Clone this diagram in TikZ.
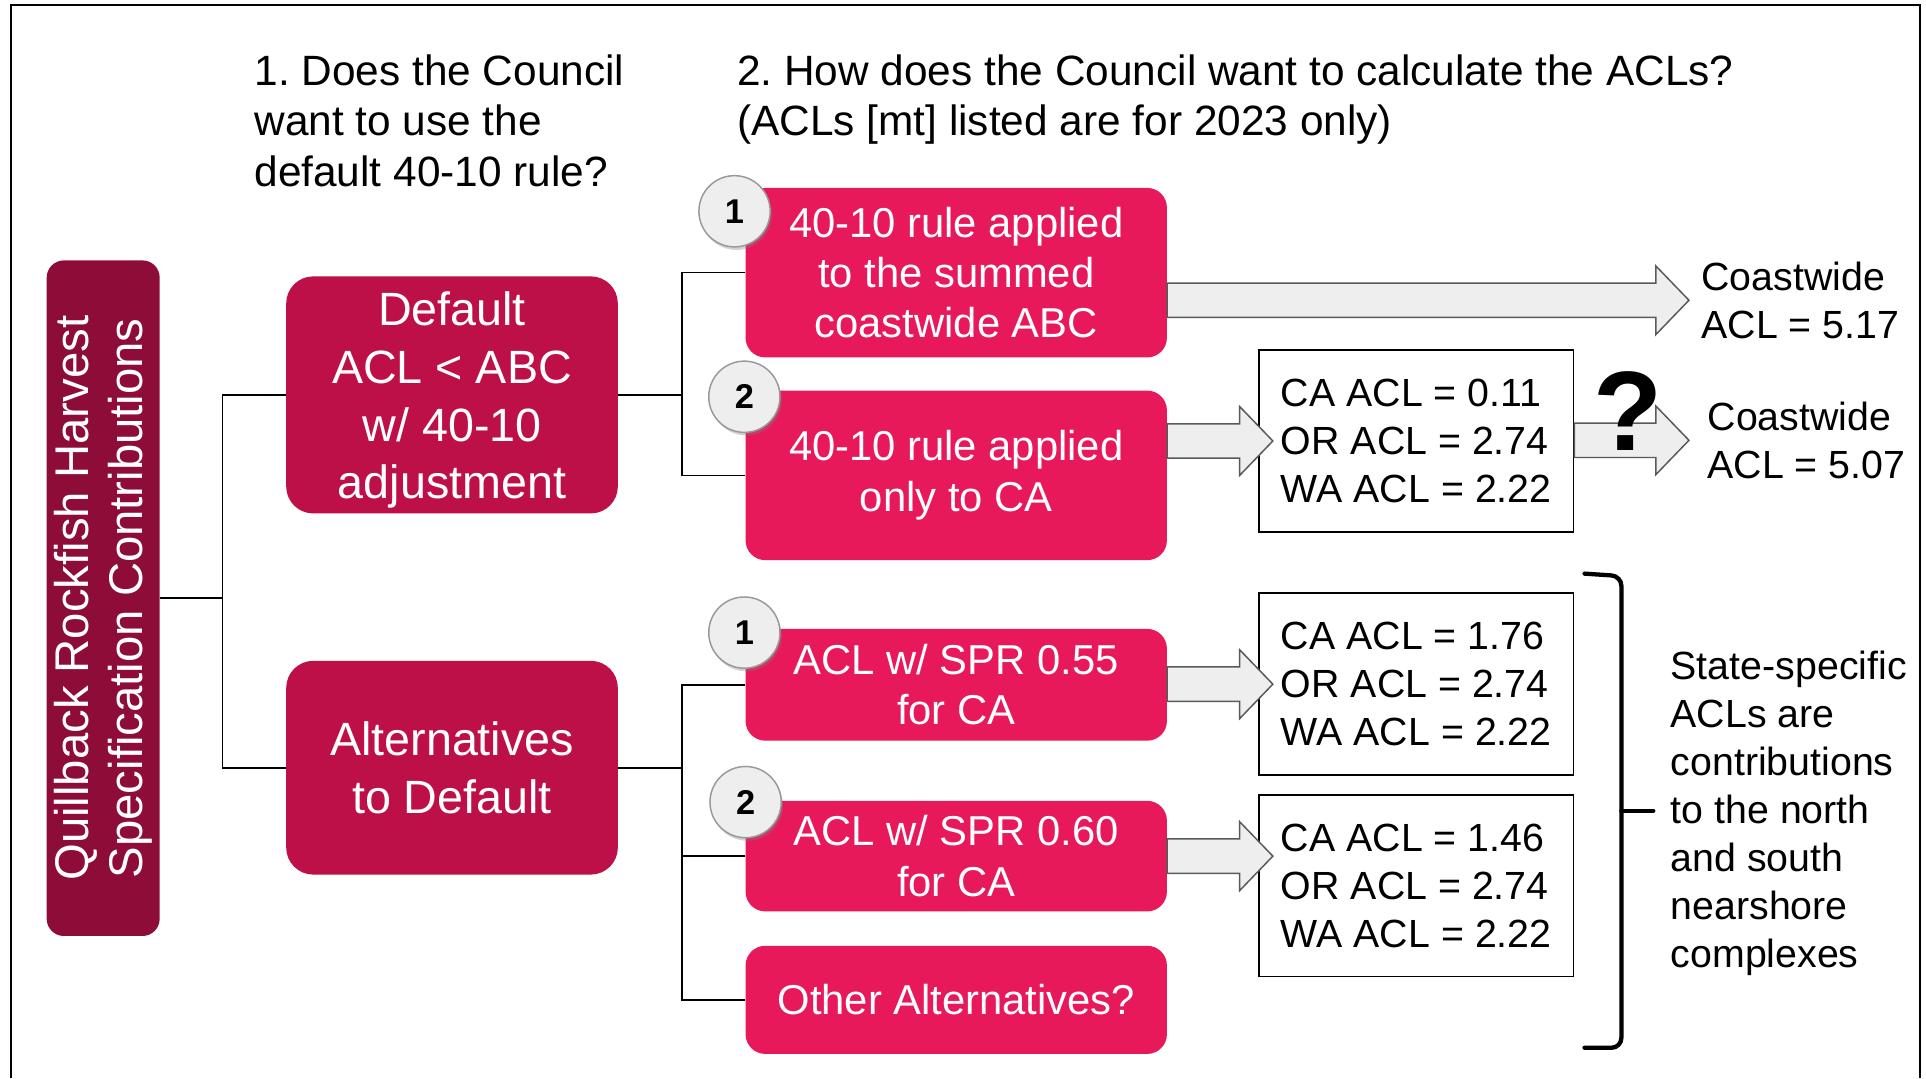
\documentclass[tikz,border=0pt]{standalone}
\usepackage{fontspec}
\setmainfont{Liberation Sans}
\usepackage{tikz}
\usetikzlibrary{calc, shadows, positioning}
\frenchspacing
\definecolor{qbdark}{HTML}{8E0C38}
\definecolor{qbmid}{HTML}{BE1048}
\definecolor{qbpink}{HTML}{E8195A}
\definecolor{arrowgray}{HTML}{EEEEEE}
\newcommand\fs[2]{\fontsize{#1}{#2}\selectfont}
\tikzset{
  link/.style={draw=black, line width=1.3pt},
  titlebox/.style={
    fill=qbdark, text=white,
    rounded corners=14pt,
    align=center,
    font=\fs{38.5}{44}},
  choice/.style={
    fill=qbmid, text=white,
    rounded corners=22pt,
    align=center,
    minimum width=270pt,
    font=\fs{38}{47}},
  option/.style={
    fill=qbpink, text=white,
    rounded corners=16pt,
    align=center,
    minimum width=343pt,
    font=\fs{34}{41}},
  badge/.style={
    circle, draw=gray!80, line width=1.2pt, fill=arrowgray,
    minimum size=58pt, inner sep=0pt,
    font=\bfseries\fs{28}{28},
    drop shadow={opacity=0.35, shadow xshift=1.5pt, shadow yshift=-2.5pt}},
  valbox/.style={
    draw=black, line width=1.5pt, fill=white,
    minimum width=256pt, minimum height=148pt,
    align=left,
    font=\fs{32}{39}},
  note/.style={anchor=north west, align=left, inner sep=0pt, font=\fs{32}{39}},
  question/.style={anchor=north west, align=left, inner sep=0pt, font=\fs{34.5}{41.5}},
  fatarrow/.style={draw=gray!70!black, line width=1.2pt, fill=arrowgray},
  bracket/.style={line width=3.5pt, line cap=round}
}
% wide block arrow from #1 to the tip #2
\newcommand\fatarrow[2]{%
  \draw[fatarrow] let \p1=(#1), \p2=(#2) in
    (\x1,\y2+14pt) -- (\x2-27pt,\y2+14pt) -- (\x2-27pt,\y2+28pt) -- (\x2,\y2)
    -- (\x2-27pt,\y2-28pt) -- (\x2-27pt,\y2-14pt) -- (\x1,\y2-14pt) -- cycle;}

\begin{document}
\begin{tikzpicture}[x=1pt, y=-1pt]
	\useasboundingbox (0,0) rectangle (1568,878);
	\draw[line width=2pt] (9,878) -- (9,4) -- (1563,4) -- (1563,878);

	% questions
	\node[question] (qa) at (207,44) {1. Does the Council\\want to use the\\default 40-10 rule?};
	\node[question] (qb) at (600,44) {2. How does the Council want to calculate the ACLs?\\(ACLs [mt] listed are for 2023 only)};

	% tree
	\node[titlebox, rotate=90, minimum width=550pt, minimum height=92pt] (title) at (84,487) {Quillback Rockfish Harvest\\Specification Contributions};
	\node[choice, minimum height=193pt] (dflt) at (368,321.5) {\rule{0pt}{36pt}Default\\ACL < ABC\\w/ 40-10\\adjustment};
	\node[choice, minimum height=174pt] (alt) at (368,625) {Alternatives\\to Default};

	\node[option, minimum height=138pt] (sum) at (778.5,222) {40-10 rule applied\\to the summed\\coastwide ABC};
	\node[option, minimum height=138pt] (onlyca) at (778.5,387) {40-10 rule applied\\only to CA};
	\node[option, minimum height=91pt] (spra) at (778.5,557.5) {ACL w/ SPR 0.55\\for CA};
	\node[option, minimum height=90pt] (sprb) at (778.5,697) {ACL w/ SPR 0.60\\for CA};
	\node[option, minimum height=88pt] (other) at (778.5,814) {Other Alternatives?};

	\node[badge] (na) at (598,172) {1};
	\node[badge] (nb) at (606,323) {2};
	\node[badge] (nc) at (606,515) {1};
	\node[badge] (nd) at (607,653) {2};

	\coordinate (ja) at ([xshift=51pt]title.south);
	\draw[link] (title.south) -- (ja);
	\draw[link] (dflt.west) -| (ja) |- (alt.west);
	\coordinate (jb) at ([xshift=52pt]dflt.east);
	\draw[link] (dflt.east) -- (jb);
	\draw[link] (sum.west) -| (jb) |- (onlyca.west);
	\coordinate (jc) at ([xshift=52pt]alt.east);
	\draw[link] (alt.east) -- (jc);
	\draw[link] (spra.west) -| (jc) |- (other.west);
	\draw[link] (sprb.west) -- (sprb.west -| jc);

	% results
	\node[valbox] (vala) at (1153,359) {CA ACL = 0.11\\OR ACL = 2.74\\WA ACL = 2.22};
	\node[valbox] (valb) at (1153,557) {CA ACL = 1.76\\OR ACL = 2.74\\WA ACL = 2.22};
	\node[valbox] (valc) at (1153,721) {CA ACL = 1.46\\OR ACL = 2.74\\WA ACL = 2.22};
	\node[note] (cwa) at (1385,213) {Coastwide\\ACL = 5.17};
	\node[note] (cwb) at (1390,327) {Coastwide\\ACL = 5.07};
	\node[note] (state) at (1360,530) {State-specific\\ACLs are\\contributions\\to the north\\and south\\nearshore\\complexes};

	\coordinate (tipa) at ([xshift=-10pt]cwa.west);
	\coordinate (tipb) at ([xshift=12pt]vala.west);
	\coordinate (tipc) at ([xshift=-15pt]cwb.west);
	\coordinate (tipd) at ([xshift=12pt]valb.west);
	\path (valc.west |- sprb.east) ++(12,0) coordinate (tipe);
	\fatarrow{sum.east}{tipa}
	\fatarrow{onlyca.east}{tipb}
	\fatarrow{vala.east}{tipc}
	\fatarrow{spra.east}{tipd}
	\fatarrow{sprb.east}{tipe}
	\node[font=\bfseries\fs{92}{92}, inner sep=0pt] (qm) at (1325,335) {?};

	% bracket round the state values
	\draw[bracket, rounded corners=8pt] (1290,467) -- (1320,469) -- (1320,853) -- (1290,853);
	\draw[bracket] (1320,660) -- ([xshift=-14pt]state.west |- 0,660);
\end{tikzpicture}
\end{document}
